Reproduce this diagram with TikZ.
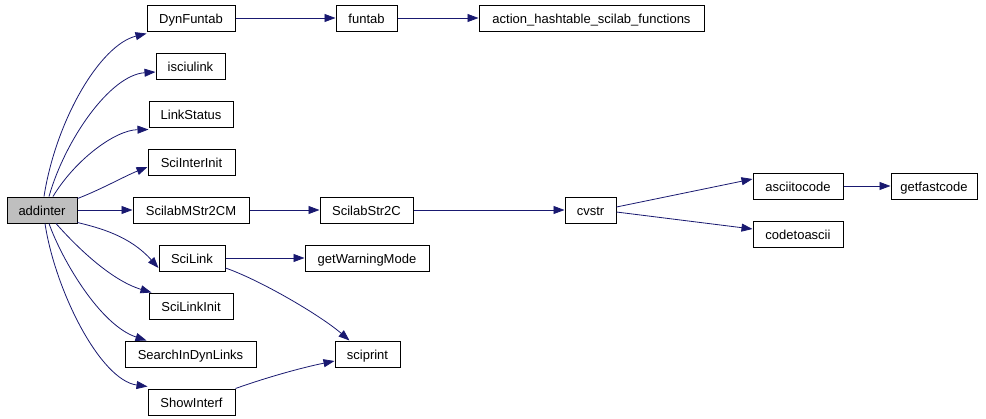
\documentclass[tikz,border=0pt]{standalone}
\usepackage{fontspec}
\setmainfont{Liberation Sans}
\usetikzlibrary{arrows.meta}
\definecolor{edgecol}{HTML}{191970}
\definecolor{rootfill}{HTML}{BFBFBF}
\tikzset{
  fn/.style={draw=black, line width=1pt, minimum height=26pt, inner sep=0pt, text height=11.5pt, text depth=0.5pt, font=\fontsize{13pt}{15pt}\selectfont, anchor=center},
  root/.style={fn, fill=rootfill},
  call/.style={draw=edgecol, line width=0.8pt, -{Triangle[length=11pt,width=8pt]}},
}
\begin{document}
\begin{tikzpicture}[x=1pt,y=-1pt]
\useasboundingbox (0,0) rectangle (986,418);
\node[root, minimum width=70pt]  (addinter) at (42,210) {addinter};
\node[fn, minimum width=88pt]  (DynFuntab) at (191,18) {DynFuntab};
\node[fn, minimum width=69pt]  (isciulink) at (190.5,66) {isciulink};
\node[fn, minimum width=84pt]  (LinkStatus) at (191,114) {LinkStatus};
\node[fn, minimum width=87pt]  (SciInterInit) at (191.5,162) {SciInterInit};
\node[fn, minimum width=116pt] (ScilabMStr2CM) at (191,210) {ScilabMStr2CM};
\node[fn, minimum width=66pt]  (SciLink) at (192,258) {SciLink};
\node[fn, minimum width=84pt]  (SciLinkInit) at (191,306) {SciLinkInit};
\node[fn, minimum width=131pt] (SearchInDynLinks) at (190.5,354) {SearchInDynLinks};
\node[fn, minimum width=87pt]  (ShowInterf) at (191.5,402) {ShowInterf};
\node[fn, minimum width=61pt]  (funtab) at (366.5,18) {funtab};
\node[fn, minimum width=225pt] (action) at (591.5,18) {action\_hashtable\_scilab\_functions};
\node[fn, minimum width=93pt]  (ScilabStr2C) at (366.5,210) {ScilabStr2C};
\node[fn, minimum width=124pt] (getWarningMode) at (367,258) {getWarningMode};
\node[fn, minimum width=65pt]  (sciprint) at (367.5,354) {sciprint};
\node[fn, minimum width=51pt]  (cvstr) at (590.5,210) {cvstr};
\node[fn, minimum width=90pt]  (asciitocode) at (798,186) {asciitocode};
\node[fn, minimum width=90pt]  (codetoascii) at (798,234) {codetoascii};
\node[fn, minimum width=86pt]  (getfastcode) at (934,186) {getfastcode};

% from addinter
\draw[call] ([xshift=2pt]addinter.north) .. controls (56,120) and (100,45) .. ([yshift=-2pt]DynFuntab.south west);
\draw[call] ([xshift=7pt]addinter.north) .. controls (65,140) and (110,75) .. ([yshift=-6pt]isciulink.west);
\draw[call] ([xshift=11pt]addinter.north) .. controls (75,160) and (115,130) .. ([yshift=-2pt]LinkStatus.south west);
\draw[call] ([yshift=-2pt]addinter.north east) .. controls (100,190) and (125,176) .. ([yshift=-5pt]SciInterInit.west);
\draw[call] (addinter.east) -- (ScilabMStr2CM.west);
\draw[call] ([yshift=1pt]addinter.south east) .. controls (100,228) and (130,236) .. ([yshift=-10pt]SciLink.west);
\draw[call] ([xshift=14pt]addinter.south) .. controls (75,245) and (110,280) .. ([xshift=3pt]SciLinkInit.north west);
\draw[call] ([xshift=7pt]addinter.south) .. controls (62,260) and (100,325) .. ([xshift=22pt]SearchInDynLinks.north west);
\draw[call] ([xshift=3pt]addinter.south) .. controls (55,290) and (100,380) .. ([yshift=2pt]ShowInterf.north west);

% others
\draw[call] (DynFuntab.east) -- (funtab.west);
\draw[call] (funtab.east) -- (action.west);
\draw[call] (ScilabMStr2CM.east) -- (ScilabStr2C.west);
\draw[call] (ScilabStr2C.east) -- (cvstr.west);
\draw[call] ([yshift=3pt]cvstr.east) -- ([yshift=7pt]asciitocode.west);
\draw[call] ([yshift=-2pt]cvstr.east) -- ([yshift=5pt]codetoascii.west);
\draw[call] (asciitocode.east) -- (getfastcode.west);
\draw[call] (SciLink.east) -- (getWarningMode.west);
\draw[call] ([yshift=-10pt]SciLink.east) .. controls (260,280) and (320,315) .. ([xshift=15pt]sciprint.north west);
\draw[call] (ShowInterf.north east) .. controls (265,378) and (300,368) .. ([yshift=-7pt]sciprint.west);
\end{tikzpicture}
\end{document}
